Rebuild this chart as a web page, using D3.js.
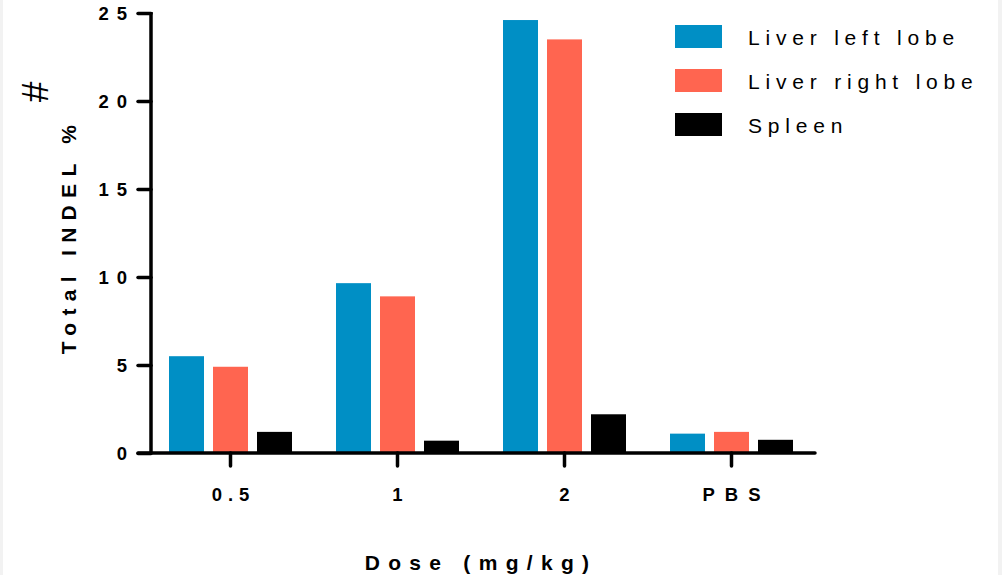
<!DOCTYPE html>
<html><head><meta charset="utf-8">
<script src="https://cdn.jsdelivr.net/npm/d3@7"></script>
<style>
html,body{margin:0;padding:0;background:#fff;}
svg{display:block;font-family:"Liberation Sans",Arial,sans-serif;}
</style></head>
<body>
<svg id="chart" width="1002" height="575"></svg>
<script>
const categories = ["0.5", "1", "2", "PBS"];
const seriesNames = ["Liver left lobe", "Liver right lobe", "Spleen"];
const seriesColors = ["#008fc5", "#ff6550", "#000000"];
const liverLeft = [5.5, 9.65, 24.6, 1.1];
const liverRight = [4.9, 8.9, 23.5, 1.2];
const spleen = [1.2, 0.7, 2.2, 0.75];
const yTicks = [0, 5, 10, 15, 20, 25];

const series = [liverLeft, liverRight, spleen];
const svg = d3.select("#chart");

// faint page edges
svg.append("rect").attr("x",0).attr("y",0).attr("width",3).attr("height",575).attr("fill","#f2f2f2");
svg.append("rect").attr("x",998).attr("y",0).attr("width",4).attr("height",575).attr("fill","#f2f2f2");

const x = d3.scaleBand().domain(categories).range([147, 815]).paddingInner(0).paddingOuter(0);
const y = d3.scaleLinear().domain([0, 25]).range([453, 13]);
const barW = 35, gap = 9;
const xs = d3.scaleBand().domain(d3.range(series.length)).range([-(3*barW+2*gap)/2, (3*barW+2*gap)/2]).paddingInner(gap/(barW+gap)).paddingOuter(0);

// bars
series.forEach((vals, si) => {
  svg.append("g").selectAll("rect").data(vals).join("rect")
    .attr("x", (d,i) => x(categories[i]) + x.bandwidth()/2 + xs(si))
    .attr("width", xs.bandwidth())
    .attr("y", d => y(d))
    .attr("height", d => y(0) - y(d))
    .attr("fill", seriesColors[si]);
});

// y axis
const yAxis = svg.append("g").attr("transform","translate(151,0)")
  .call(d3.axisLeft(y).tickValues(yTicks).tickSize(13).tickPadding(10).tickFormat(d => d));
yAxis.select(".domain").attr("d", `M0,${y(25)-1}V${y(0)+1}`).attr("stroke","#000").attr("stroke-width",3.5);
yAxis.selectAll(".tick line").attr("stroke","#000").attr("stroke-width",3.5).attr("stroke-linecap","round");
yAxis.selectAll(".tick text").attr("fill","#000").attr("font-size",18.5).attr("font-weight","bold")
  .attr("letter-spacing","8px").attr("dx","7px").attr("dy","0.36em");

// x axis
const xAxis = svg.append("g").attr("transform","translate(0,453)")
  .call(d3.axisBottom(x).tickSize(13).tickPadding(22));
xAxis.select(".domain").attr("d","M138,0H815").attr("stroke","#000").attr("stroke-width",3.5).attr("stroke-linecap","round");
xAxis.selectAll(".tick line").attr("stroke","#000").attr("stroke-width",3.5).attr("stroke-linecap","round");
xAxis.selectAll(".tick text").attr("fill","#000").attr("font-size",18.5).attr("font-weight","bold")
  .attr("letter-spacing",d => d === "PBS" ? "10px" : "6px")
  .attr("dx",d => d === "PBS" ? "5px" : "3px");

// axis titles
svg.append("text").attr("x",481).attr("y",570).attr("text-anchor","middle")
  .attr("font-size",21).attr("font-weight","bold").attr("letter-spacing","8.3px").text("Dose (mg/kg)");
svg.append("text").attr("transform","translate(76,236) rotate(-90)").attr("text-anchor","middle")
  .attr("font-size",21).attr("font-weight","bold").attr("letter-spacing","7.3px").text("Total INDEL %");
svg.append("text").attr("transform","translate(48,92) rotate(-90)").attr("text-anchor","middle")
  .attr("font-size",37).attr("font-weight","normal").text("#");

// legend
const lg = svg.append("g");
seriesNames.forEach((n, i) => {
  const yy = 25 + i*44;
  lg.append("rect").attr("x",675).attr("y",yy).attr("width",47).attr("height",23).attr("fill",seriesColors[i]);
  lg.append("text").attr("x",748).attr("y",yy+20).attr("font-size",21).attr("letter-spacing","5.8px")
    .attr("fill","#000").text(n);
});
</script>
</body></html>
